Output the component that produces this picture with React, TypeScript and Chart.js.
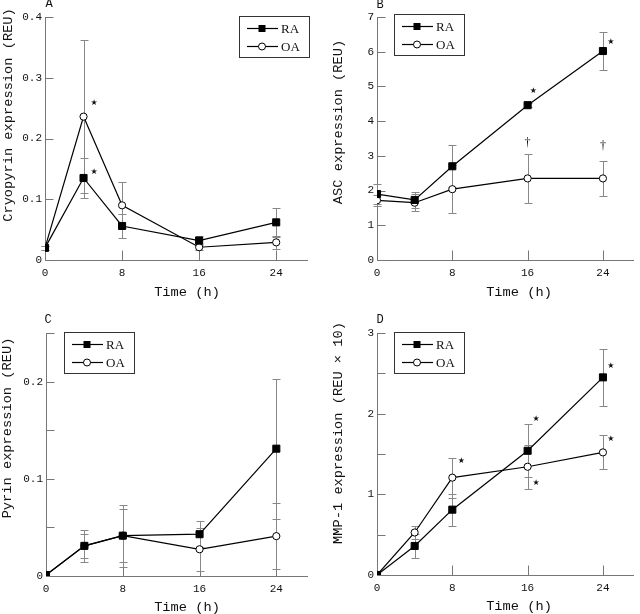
import React, { useEffect, useRef } from "react";
import { Chart, registerables } from "chart.js";
Chart.register(...registerables);

const HOURS = [0, 4, 8, 16, 24];
const X_TICKS = [0, 8, 16, 24];
const X_MAX = 27.3;

// Panel A — Cryopyrin
const cryoRA = [0.02, 0.135, 0.056, 0.032, 0.062];
const cryoRAErr = [0.003, 0.033, 0.02, 0.008, 0.024];
const cryoOA = [0.02, 0.236, 0.09, 0.021, 0.029];
const cryoOAErr = [0.003, 0.126, 0.038, 0.005, 0.011];
const cryoYTicks = [0, 0.1, 0.2, 0.3, 0.4];
const cryoYMinor: number[] = [];
const cryoStars = [[5.1, 0.259], [5.1, 0.145]];
const cryoDaggers: number[][] = [];

// Panel B — ASC
const ascRA = [1.9, 1.73, 2.7, 4.46, 6.02];
const ascRAErr = [0.29, 0.22, 0.6, 0.05, 0.56];
const ascOA = [1.72, 1.65, 2.04, 2.35, 2.35];
const ascOAErr = [0.16, 0.24, 0.7, 0.7, 0.5];
const ascYTicks = [0, 1, 2, 3, 4, 5, 6, 7];
const ascYMinor: number[] = [];
const ascStars = [[16.6, 4.88], [24.85, 6.27]];
const ascDaggers = [[16, 3.37], [24, 3.3]];

// Panel C — Pyrin
const pyrinRA = [0.001, 0.031, 0.0415, 0.043, 0.131];
const pyrinRAErr = [0, 0.0165, 0.032, 0.0135, 0.072];
const pyrinOA = [0.001, 0.031, 0.0415, 0.0275, 0.041];
const pyrinOAErr = [0, 0.012, 0.0275, 0.022, 0.034];
const pyrinYTicks = [0, 0.1, 0.2];
const pyrinYMinor = [0.05, 0.15, 0.25];
const pyrinStars: number[][] = [];
const pyrinDaggers: number[][] = [];

// Panel D — MMP-1
const mmpRA = [0, 0.36, 0.81, 1.54, 2.45];
const mmpRAErr = [0, 0.148, 0.2, 0.33, 0.35];
const mmpOA = [0, 0.527, 1.207, 1.342, 1.52];
const mmpOAErr = [0, 0.08, 0.247, 0.27, 0.21];
const mmpYTicks = [0, 1, 2, 3];
const mmpYMinor = [0.5, 1.5, 2.5];
const mmpStars = [[8.95, 1.41], [16.9, 1.94], [16.9, 1.145], [24.85, 2.59], [24.85, 1.69]];
const mmpDaggers: number[][] = [];

const MONO = '"Liberation Mono", "DejaVu Sans Mono", monospace';
const SERIF = '"Liberation Serif", "DejaVu Serif", serif';
const AXIS = "#777";
const ERR = "#888";
const TEXT = "#111";

type PanelCfg = {
  letter: string;
  yTitle: string;
  yMax: number;
  yTicks: number[];
  yMinor: number[];
  decimals: number;
  ra: number[];
  raErr: number[];
  oa: number[];
  oaErr: number[];
  stars: number[][];
  daggers: number[][];
  left: number;
  top: number;
  pad: { top: number; right: number };
  yWidth: number;
  xHeight: number;
  legend: [number, number];
  titlePos: [number, number];
  letterPos: [number, number];
  timePos: [number, number];
};

const panels: PanelCfg[] = [
  {
    letter: "A", yTitle: "Cryopyrin expression (REU)", yMax: 0.4, yTicks: cryoYTicks, yMinor: cryoYMinor, decimals: 1,
    ra: cryoRA, raErr: cryoRAErr, oa: cryoOA, oaErr: cryoOAErr, stars: cryoStars, daggers: cryoDaggers,
    left: 0, top: 0, pad: { top: 17, right: 12 }, yWidth: 45, xHeight: 47,
    legend: [239, 16], titlePos: [8, 115], letterPos: [49, 4], timePos: [187, 292],
  },
  {
    letter: "B", yTitle: "ASC expression (REU)", yMax: 7, yTicks: ascYTicks, yMinor: ascYMinor, decimals: 0,
    ra: ascRA, raErr: ascRAErr, oa: ascOA, oaErr: ascOAErr, stars: ascStars, daggers: ascDaggers,
    left: 320, top: 0, pad: { top: 17, right: 0 }, yWidth: 57, xHeight: 47,
    legend: [74, 14], titlePos: [18, 122], letterPos: [60, 5], timePos: [199, 292],
  },
  {
    letter: "C", yTitle: "Pyrin expression (REU)", yMax: 0.25, yTicks: pyrinYTicks, yMinor: pyrinYMinor, decimals: 1,
    ra: pyrinRA, raErr: pyrinRAErr, oa: pyrinOA, oaErr: pyrinOAErr, stars: pyrinStars, daggers: pyrinDaggers,
    left: 0, top: 307, pad: { top: 26, right: 12 }, yWidth: 46, xHeight: 38,
    legend: [64, 25], titlePos: [7, 121], letterPos: [48, 13], timePos: [187, 300],
  },
  {
    letter: "D", yTitle: "MMP-1 expression (REU \u00d7 10)", yMax: 3, yTicks: mmpYTicks, yMinor: mmpYMinor, decimals: 0,
    ra: mmpRA, raErr: mmpRAErr, oa: mmpOA, oaErr: mmpOAErr, stars: mmpStars, daggers: mmpDaggers,
    left: 320, top: 307, pad: { top: 26, right: 0 }, yWidth: 57, xHeight: 39,
    legend: [74, 25], titlePos: [18, 126], letterPos: [60, 13], timePos: [199, 299],
  },
];

function drawSquare(ctx: CanvasRenderingContext2D, x: number, y: number, s: number) {
  ctx.fillStyle = "#000";
  ctx.fillRect(x - s / 2, y - s / 2, s, s);
}
function drawCircle(ctx: CanvasRenderingContext2D, x: number, y: number, r: number) {
  ctx.beginPath();
  ctx.arc(x, y, r, 0, Math.PI * 2);
  ctx.fillStyle = "#fff";
  ctx.fill();
  ctx.strokeStyle = "#000";
  ctx.lineWidth = 1;
  ctx.stroke();
}

function makeDeco(cfg: PanelCfg) {
  return {
    id: "deco" + cfg.letter,
    beforeDatasetsDraw(chart: any) {
      const { ctx, chartArea: ca, scales } = chart;
      const xs = scales.x, ys = scales.y;
      ctx.save();
      // axes
      ctx.strokeStyle = AXIS;
      ctx.lineWidth = 1;
      const x0 = Math.round(ca.left) + 0.5;
      const y0 = Math.round(ca.bottom) + 0.5;
      ctx.beginPath();
      ctx.moveTo(x0, Math.round(ca.top));
      ctx.lineTo(x0, y0);
      ctx.lineTo(Math.round(ca.right), y0);
      ctx.stroke();
      // inward ticks
      ctx.beginPath();
      [...cfg.yTicks, ...cfg.yMinor].forEach((v) => {
        const py = Math.round(ys.getPixelForValue(v)) + 0.5;
        ctx.moveTo(x0, py);
        ctx.lineTo(x0 + 8, py);
      });
      X_TICKS.forEach((v) => {
        const px = Math.round(xs.getPixelForValue(v)) + 0.5;
        ctx.moveTo(px, y0);
        ctx.lineTo(px, y0 - 10);
      });
      ctx.stroke();
      // error bars
      ctx.strokeStyle = ERR;
      ctx.beginPath();
      const series: [number[], number[]][] = [[cfg.ra, cfg.raErr], [cfg.oa, cfg.oaErr]];
      series.forEach(([vals, errs]) => {
        vals.forEach((v, j) => {
          const e = errs[j];
          if (!e) return;
          const px = Math.round(xs.getPixelForValue(HOURS[j])) + 0.5;
          const hi = Math.round(ys.getPixelForValue(v + e)) + 0.5;
          const lo = Math.round(ys.getPixelForValue(Math.max(0, v - e))) + 0.5;
          ctx.moveTo(px, hi);
          ctx.lineTo(px, lo);
          ctx.moveTo(px - 4, hi);
          ctx.lineTo(px + 4, hi);
          ctx.moveTo(px - 4, lo);
          ctx.lineTo(px + 4, lo);
        });
      });
      ctx.stroke();
      ctx.restore();
    },
    afterDraw(chart: any) {
      const { ctx, scales } = chart;
      const xs = scales.x, ys = scales.y;
      ctx.save();
      ctx.fillStyle = TEXT;
      // stars & daggers
      ctx.textAlign = "center";
      ctx.textBaseline = "middle";
      ctx.font = '8px "DejaVu Sans", sans-serif';
      cfg.stars.forEach(([t, v]) => ctx.fillText("\u2605", xs.getPixelForValue(t), ys.getPixelForValue(v)));
      ctx.font = "12px " + SERIF;
      cfg.daggers.forEach(([t, v]) => ctx.fillText("\u2020", xs.getPixelForValue(t), ys.getPixelForValue(v)));
      // panel letter
      ctx.font = "12px " + MONO;
      ctx.fillText(cfg.letter, cfg.letterPos[0], cfg.letterPos[1]);
      // x title
      ctx.font = "13.7px " + MONO;
      ctx.fillText("Time (h)", cfg.timePos[0], cfg.timePos[1]);
      // y title
      ctx.save();
      ctx.translate(cfg.titlePos[0], cfg.titlePos[1]);
      ctx.rotate(-Math.PI / 2);
      ctx.fillText(cfg.yTitle, 0, 0);
      ctx.restore();
      // legend
      const [bx, by] = cfg.legend;
      ctx.fillStyle = "#fff";
      ctx.fillRect(bx, by, 70, 41);
      ctx.strokeStyle = "#333";
      ctx.lineWidth = 1;
      ctx.strokeRect(bx + 0.5, by + 0.5, 70, 41);
      const rows: [string, number][] = [["RA", by + 12.5], ["OA", by + 30.5]];
      rows.forEach(([label, ry], i) => {
        ctx.strokeStyle = "#000";
        ctx.lineWidth = 1.2;
        ctx.beginPath();
        ctx.moveTo(bx + 8, ry);
        ctx.lineTo(bx + 39, ry);
        ctx.stroke();
        if (i === 0) drawSquare(ctx, bx + 23, ry, 7);
        else drawCircle(ctx, bx + 23, ry, 3.5);
        ctx.fillStyle = TEXT;
        ctx.font = "13px " + SERIF;
        ctx.textAlign = "left";
        ctx.textBaseline = "middle";
        ctx.fillText(label, bx + 42, ry + 1);
      });
      ctx.restore();
    },
  };
}

function Panel({ cfg }: { cfg: PanelCfg }) {
  const ref = useRef<HTMLCanvasElement>(null);
  useEffect(() => {
    const mk = (vals: number[]) => vals.map((v, j) => ({ x: HOURS[j], y: v }));
    const chart = new Chart(ref.current!, {
      type: "line",
      data: {
        datasets: [
          {
            label: "RA", data: mk(cfg.ra), borderColor: "#000", borderWidth: 1.2, backgroundColor: "#000",
            pointStyle: "rect", pointRadius: 5, pointBorderWidth: 1, pointBorderColor: "#000", pointBackgroundColor: "#000", tension: 0,
          },
          {
            label: "OA", data: mk(cfg.oa), borderColor: "#000", borderWidth: 1.2, backgroundColor: "#fff",
            pointStyle: "circle", pointRadius: 3.6, pointBorderWidth: 1, pointBorderColor: "#000", pointBackgroundColor: "#fff", tension: 0,
          },
        ],
      },
      options: {
        responsive: false,
        animation: false,
        devicePixelRatio: 1,
        layout: { padding: { top: cfg.pad.top, right: cfg.pad.right, left: 0, bottom: 0 } },
        plugins: { legend: { display: false }, tooltip: { enabled: false }, title: { display: false } },
        events: [],
        scales: {
          x: {
            type: "linear", min: 0, max: X_MAX,
            grid: { display: false, drawTicks: false }, border: { display: false },
            afterBuildTicks: (s: any) => { s.ticks = X_TICKS.map((v) => ({ value: v })); },
            afterFit: (s: any) => { s.height = cfg.xHeight; },
            ticks: { autoSkip: false, maxRotation: 0, padding: 6, color: TEXT, font: { family: MONO, size: 11 }, callback: (v: any) => String(v) },
          },
          y: {
            type: "linear", min: 0, max: cfg.yMax,
            grid: { display: false, drawTicks: false }, border: { display: false },
            afterBuildTicks: (s: any) => { s.ticks = cfg.yTicks.map((v) => ({ value: v })); },
            afterFit: (s: any) => { s.width = cfg.yWidth; },
            ticks: {
              autoSkip: false, padding: 3, color: TEXT, font: { family: MONO, size: 11 },
              callback: (v: any) => (Number(v) === 0 ? "0" : Number(v).toFixed(cfg.decimals)),
            },
          },
        },
      },
      plugins: [makeDeco(cfg)],
    } as any);
    return () => chart.destroy();
  }, [cfg]);
  return (
    <canvas
      ref={ref}
      width={320}
      height={307}
      style={{ position: "absolute", left: cfg.left, top: cfg.top, width: 320, height: 307 }}
    />
  );
}

export default function App() {
  return (
    <div style={{ position: "fixed", left: 0, top: 0, width: 640, height: 614, background: "#fff" }}>
      {panels.map((p) => (
        <Panel key={p.letter} cfg={p} />
      ))}
    </div>
  );
}
